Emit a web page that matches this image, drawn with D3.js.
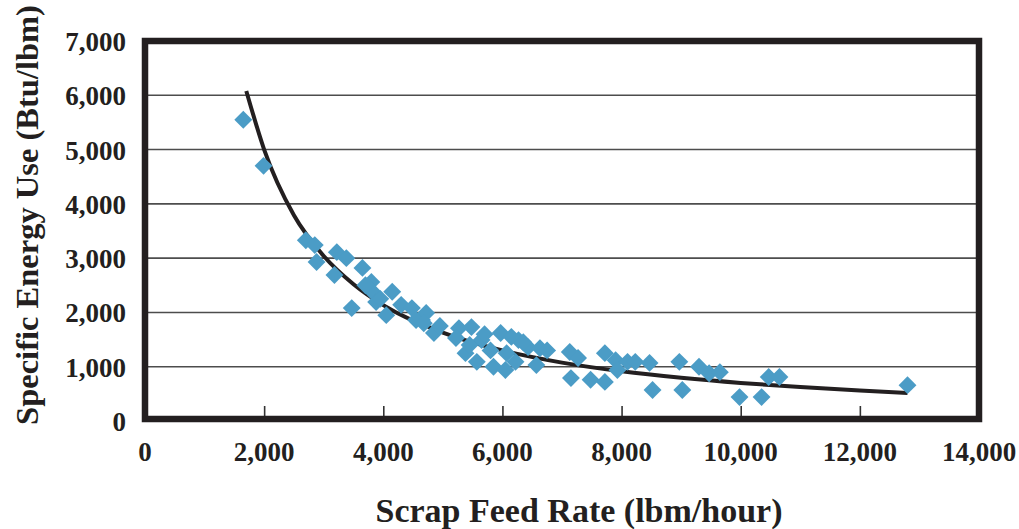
<!DOCTYPE html>
<html>
<head>
<meta charset="utf-8">
<script src="https://cdn.jsdelivr.net/npm/d3@7"></script>
<style>
  body { margin: 0; background: #fff; }
  svg { display: block; }
  text { font-family: "Liberation Serif", "Times New Roman", serif; font-weight: bold; fill: #231f20; }
</style>
</head>
<body>
<div id="app"></div>
<script>
// scrap feed rate (lbm/hour) vs specific energy use (Btu/lbm)
const feedRate = [1650, 1990, 2700, 2850, 2880, 3220, 3380, 3180, 3650, 3800, 3820, 3470, 3880, 4150, 4050, 4300,
  4480, 4650, 4550, 4720, 4680, 4850, 5270, 5480, 5220, 5380, 5570, 5650, 5970, 5850, 6050, 6270, 6220, 6430,
  6630, 6570, 6070, 7130, 7150, 7270, 7480, 7720, 7720, 7900, 7930, 8100, 8230, 8470, 8520, 8970, 9020, 9300,
  9470, 9650, 9980, 10350, 10470, 10650, 12800, 5450, 5700, 5800, 6150, 6350, 4950, 6750, 3950, 3700];
const energyUse = [5550, 4700, 3330, 3240, 2930, 3110, 3000, 2690, 2820, 2560, 2380, 2080, 2190, 2380, 1950, 2140,
  2080, 1860, 1860, 1990, 1800, 1620, 1710, 1730, 1530, 1250, 1090, 1490, 1620, 1000, 940, 1490, 1090, 1360,
  1340, 1030, 1250, 1270, 790, 1160, 760, 720, 1250, 1120, 940, 1090, 1090, 1070, 570, 1090, 570, 1000,
  880, 900, 440, 440, 810, 810, 660, 1400, 1600, 1300, 1550, 1450, 1750, 1300, 2250, 2500];

// trend curve
const trendX = [1700, 2000, 2500, 3000, 3500, 4000, 5000, 6000, 7000, 8000, 9000, 10000, 11000, 12000, 12800];
const trendY = [6080, 5000, 3790, 3040, 2520, 2135, 1630, 1300, 1075, 915, 795, 700, 625, 560, 515];

const xTicks = [0, 2000, 4000, 6000, 8000, 10000, 12000, 14000];
const yTicks = [0, 1000, 2000, 3000, 4000, 5000, 6000, 7000];

const width = 1019;
const height = 529;
const plotL = 145, plotR = 979, plotT = 41, plotB = 421;

const svg = d3.select('#app')
  .append('svg')
  .attr('width', width)
  .attr('height', height);

const x = d3.scaleLinear().domain([0, 14000]).range([plotL, plotR]);
const y = d3.scaleLinear().domain([0, 7000]).range([plotB, plotT]);
const fmt = d3.format(',');

// gridlines
svg.append('g')
  .selectAll('line')
  .data(yTicks.slice(1, -1))
  .join('line')
  .attr('x1', plotL).attr('x2', plotR)
  .attr('y1', d => y(d)).attr('y2', d => y(d))
  .attr('stroke', '#4d4d4d')
  .attr('stroke-width', 1.6);

// x axis ticks, pointing up inside the frame
svg.append('g')
  .attr('transform', `translate(0,${plotB})`)
  .call(d3.axisTop(x).tickValues(xTicks.slice(1, -1)).tickSize(15).tickFormat(''))
  .call(g => g.select('.domain').remove())
  .call(g => g.selectAll('line').attr('stroke', '#333').attr('stroke-width', 1.6));

// x tick labels
svg.append('g')
  .selectAll('text')
  .data(xTicks)
  .join('text')
  .attr('x', d => x(d))
  .attr('y', 461)
  .attr('text-anchor', 'middle')
  .attr('font-size', 27)
  .text(d => fmt(d));

// y tick labels
svg.append('g')
  .selectAll('text')
  .data(yTicks)
  .join('text')
  .attr('x', 126)
  .attr('y', d => y(d) + 10)
  .attr('text-anchor', 'end')
  .attr('font-size', 27)
  .text(d => fmt(d));

// trend line
const trend = trendX.map((d, i) => [d, trendY[i]]);
svg.append('path')
  .datum(trend)
  .attr('fill', 'none')
  .attr('stroke', '#231f20')
  .attr('stroke-width', 4)
  .attr('d', d3.line().x(d => x(d[0])).y(d => y(d[1])).curve(d3.curveMonotoneX));

// markers
const points = feedRate.map((d, i) => [d, energyUse[i]]);
svg.append('g')
  .selectAll('path')
  .data(points)
  .join('path')
  .attr('transform', d => `translate(${x(d[0])},${y(d[1])}) rotate(45)`)
  .attr('d', d3.symbol(d3.symbolSquare, 160))
  .attr('fill', '#4b9cc6');

// frame
svg.append('rect')
  .attr('x', plotL).attr('y', plotT)
  .attr('width', plotR - plotL).attr('height', plotB - 2 - plotT)
  .attr('fill', 'none')
  .attr('stroke', '#231f20')
  .attr('stroke-width', 6.5);

// axis titles
svg.append('text')
  .attr('x', 579)
  .attr('y', 522)
  .attr('text-anchor', 'middle')
  .attr('font-size', 34)
  .text('Scrap Feed Rate (lbm/hour)');

svg.append('text')
  .attr('transform', 'translate(38,215) rotate(-90)')
  .attr('text-anchor', 'middle')
  .attr('font-size', 32.5)
  .text('Specific Energy Use (Btu/lbm)');
</script>
</body>
</html>
